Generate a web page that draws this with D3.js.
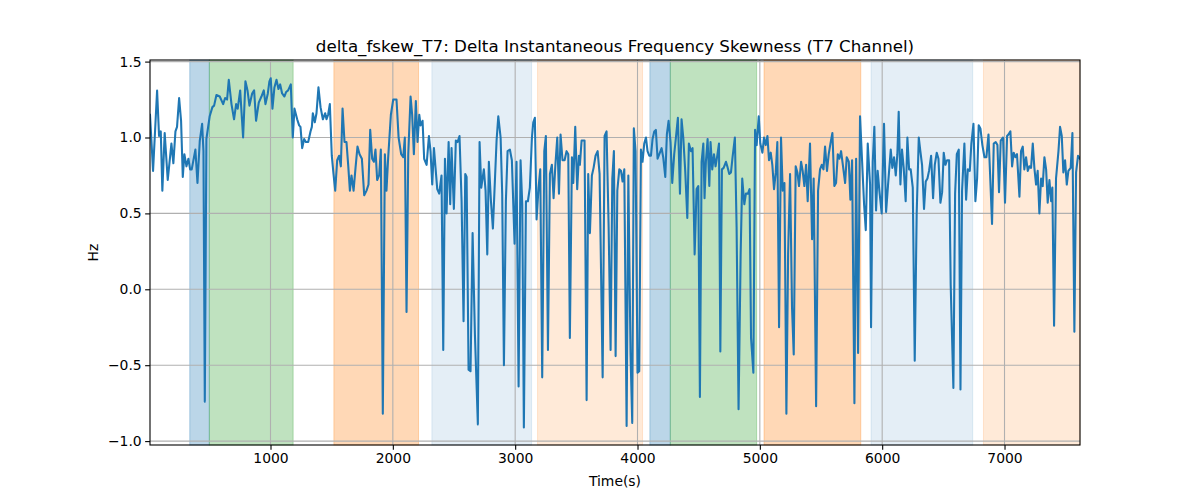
<!DOCTYPE html>
<html><head><meta charset="utf-8">
<script src="https://cdn.jsdelivr.net/npm/d3@7"></script>
<style>body{margin:0;background:#fff}svg{display:block;font-family:"DejaVu Sans",sans-serif}</style>
</head><body><div id="chart"></div>
<script>
const times = [15,40,73,89,103,116,135,160,190,206,223,236,253,269,283,296,313,329,343,356,386,403,422,441,452,463,476,503,525,539,558,585,613,629,645,659,681,702,719,732,752,776,795,812,828,850,866,882,904,926,945,959,978,991,
1002,1016,1032,1049,1065,1079,1095,1114,1128,1144,1166,1182,1196,1218,1234,1245,1259,1275,1289,1308,1327,1338,1346,1362,1376,1392,1409,1428,1447,1458,1471,1485,1501,1515,1529,1545,1561,1575,1589,1605,1621,1635,1649,1662,1679,1695,1711,1728,1747,1766,1785,1801,1815,1831,1845,1858,1872,1888,1902,1918,1935,1948,
1962,1984,2003,2030,2047,2068,2085,2098,2112,2126,2145,2158,2172,2188,2202,2216,2227,2243,2256,2276,2295,2308,2322,2336,2349,2363,2379,2398,2412,2426,2439,2456,2469,2480,2499,2515,2529,2545,2562,2578,2592,2603,2619,2635,2652,2671,2695,2709,2723,2744,2758,2772,2785,2802,2818,2834,2848,2862,2881,2894,2908,2924,2938,2957,
2973,2995,3011,3028,3044,3058,3071,3088,3104,3120,3137,3148,3161,3175,3191,3205,3221,3238,3251,3268,3284,3300,3314,3328,3344,3358,3371,3387,3404,3420,3434,3447,3464,3475,3491,3507,3521,3529,3543,3567,3584,3597,3611,3627,3641,3657,3674,3690,3715,3731,3747,3764,3780,3794,3807,3821,3835,3851,3865,3878,3892,3911,3925,
3943,3957,3970,3984,4000,4014,4028,4041,4055,4069,4082,4096,4110,4123,4137,4150,4164,4183,4197,4210,4227,4240,4254,4270,4284,4300,4314,4330,4347,4360,4374,4390,4407,4420,4437,4450,4467,4483,4497,4510,4524,4538,4548,4559,4573,4587,4597,4611,4625,4638,4652,4666,4677,4690,4704,4723,4734,4750,4764,4777,4796,4810,4826,4843,4856,4873,4886,4903,4916,
4928,4947,4961,4974,4991,5004,5021,5034,5048,5062,5075,5089,5102,5116,5130,5143,5157,5173,5187,5201,5217,5231,5247,5263,5277,5293,5307,5320,5337,5350,5364,5378,5391,5410,5427,5440,5460,5476,5492,5506,5520,5533,5549,5563,5577,5593,5609,5623,5637,5650,5664,5680,5697,5710,5727,5740,5754,5773,5787,5803,5819,5836,5852,5866,5882,5901,
5909,5923,5936,5950,5963,5977,5996,6015,6032,6048,6070,6083,6097,6111,6124,6135,6149,6162,6176,6192,6206,6220,6233,6250,6266,6282,6299,6312,6326,6342,6356,6370,6383,6400,6416,6430,6446,6460,6476,6490,6503,6517,6530,6547,6560,6582,6596,6610,6626,6640,6653,6672,6686,6700,6716,6729,6746,6762,6776,6789,6803,6819,6836,6852,6869,
6882,6898,6912,6928,6942,6955,6969,6988,7004,7021,7032,7048,7062,7075,7089,7102,7122,7135,7149,7162,7176,7190,7203,7217,7231,7244,7258,7271,7285,7299,7312,7326,7340,7353,7367,7381,7391,7405,7421,7441,7454,7468,7481,7495,7509,7522,7541,7555,7571,7585,7601,7617];

const values = [1.15,0.78,1.31,1.01,1.04,0.65,1.03,0.72,0.96,0.83,1.04,1.07,1.26,1.11,0.74,0.89,0.81,0.86,0.79,0.79,0.92,0.70,0.98,1.09,0.91,-0.74,0.99,1.14,1.20,1.21,1.28,1.27,1.22,1.26,1.25,1.38,1.22,1.12,1.22,1.19,1.31,1.00,1.37,1.31,1.21,1.29,1.31,1.11,1.23,1.27,1.31,1.22,1.29,1.37,
1.39,1.19,1.33,1.38,1.32,1.35,1.29,1.27,1.30,1.31,1.35,1.00,1.19,1.12,1.08,1.07,0.93,0.99,0.97,0.97,1.04,1.07,1.16,1.10,1.16,1.33,1.20,1.12,1.16,1.12,1.15,1.22,0.88,0.76,0.65,0.85,0.88,0.81,1.19,0.97,0.97,0.82,0.65,0.75,0.65,0.80,0.94,0.89,0.86,0.62,0.65,0.69,1.05,0.86,0.84,0.92,0.72,0.75,0.92,-0.82,0.89,0.65,
0.87,1.15,1.25,1.25,1.00,0.89,0.87,1.00,-0.15,0.89,1.27,1.15,0.89,1.24,0.97,1.15,1.08,1.11,0.86,0.82,1.01,0.91,0.69,0.93,0.80,0.66,0.63,0.75,-0.40,0.86,0.50,0.97,0.56,0.93,0.53,0.98,0.97,1.01,0.58,-0.21,0.76,0.74,-0.53,-0.54,0.37,-0.30,-0.89,0.97,0.67,0.79,0.65,0.23,0.84,0.58,0.40,0.71,0.98,1.14,1.00,0.63,-0.50,0.58,0.91,0.92,
0.85,0.30,0.84,-0.64,0.85,0.56,-0.91,0.58,0.58,0.67,1.00,1.10,1.13,0.46,0.67,0.79,-0.58,0.91,1.01,-0.40,0.76,0.82,0.60,0.81,1.00,0.63,1.02,0.85,0.85,0.91,0.89,-0.32,0.87,0.70,1.07,0.66,0.88,0.82,0.98,0.98,-0.73,0.76,0.37,0.75,0.80,0.88,0.91,0.76,-0.58,1.01,1.04,0.41,-0.40,0.73,0.91,-0.44,0.65,0.79,0.78,0.71,0.79,-0.90,0.75,
-0.43,-0.88,1.06,0.91,-0.55,-0.54,0.92,0.84,0.96,1.00,0.91,0.88,0.88,0.99,1.04,1.05,0.86,0.90,0.93,0.87,0.74,1.02,1.11,0.97,0.70,0.89,1.00,1.13,0.63,1.12,1.00,0.78,0.47,0.96,0.91,0.93,0.23,0.66,0.68,-0.71,0.84,0.96,0.60,0.84,0.99,0.68,0.97,0.79,0.89,0.81,0.88,0.96,-0.41,0.79,0.80,0.84,0.81,0.76,0.77,0.87,1.00,0.41,-0.79,0.23,0.73,0.56,0.63,0.63,0.66,
-0.32,-0.55,1.05,0.95,1.14,0.96,0.90,1.00,0.95,1.01,0.85,0.90,0.82,0.66,0.77,0.97,-0.25,1.00,0.65,0.70,-0.82,0.23,0.76,-0.12,-0.43,0.81,0.77,0.68,0.84,0.78,0.68,0.82,0.58,0.96,0.33,0.73,-0.77,0.65,0.79,0.82,0.79,0.94,0.78,0.89,0.96,1.03,0.68,0.70,0.89,0.86,0.91,0.81,0.70,0.87,0.84,0.59,0.85,-0.75,0.86,-0.42,1.14,0.84,0.56,0.39,0.96,0.69,
-0.25,0.84,1.07,0.52,0.78,0.65,0.50,1.09,0.51,0.69,0.92,0.80,0.87,0.75,0.89,1.17,0.69,0.92,0.80,0.58,1.00,0.79,0.79,0.67,-0.47,0.50,1.00,0.91,0.82,0.53,0.71,0.73,0.78,0.88,0.60,0.82,0.90,0.86,0.57,0.64,0.90,0.82,0.85,0.85,0.03,-0.65,0.63,0.89,0.92,-0.66,0.65,0.96,0.59,0.79,0.78,0.96,1.09,0.58,0.73,1.08,1.06,0.95,0.87,0.87,1.02,
0.76,0.43,0.96,0.97,0.95,0.64,0.98,1.00,0.57,1.01,1.02,1.04,0.81,0.90,0.87,0.89,0.61,0.91,0.94,0.79,0.87,0.78,0.81,0.80,0.96,0.80,0.69,0.78,0.50,0.73,0.68,0.87,0.79,0.57,0.72,0.58,0.67,-0.24,0.73,0.91,1.07,1.01,0.77,0.85,0.69,0.78,0.80,1.03,-0.28,0.77,0.88,0.86];

const spanStarts = [340, 500, 1518, 2319, 3183, 4101, 4268, 5034, 5909, 6828];
const spanEnds   = [500, 1185, 2210, 3134, 4041, 4268, 4974, 5825, 6740, 7617];
const spanKinds  = ["blue", "green", "orange", "lightblue", "lightorange", "blue", "green", "orange", "lightblue", "lightorange"];
const xTicks = [1000, 2000, 3000, 4000, 5000, 6000, 7000];
const yTicks = [-1.0, -0.5, 0.0, 0.5, 1.0, 1.5];
const titleText = "delta_fskew_T7: Delta Instantaneous Frequency Skewness (T7 Channel)";
const xLabel = "Time(s)";
const yLabel = "Hz";

const spanStyle = {
  blue: {c: "#1f77b4", a: 0.3},
  green: {c: "#2ca02c", a: 0.3},
  orange: {c: "#ff7f0e", a: 0.3},
  lightblue: {c: "#1f77b4", a: 0.12},
  lightorange: {c: "#ff7f0e", a: 0.16}
};

const W = 1200, H = 500;
const m = {l: 150, r: 1080, t: 60, b: 445};
const svg = d3.select("#chart").append("svg").attr("width", W).attr("height", H);
const x = d3.scaleLinear().domain([d3.min(times), d3.max(times)]).range([m.l, m.r]);
const y = d3.scaleLinear().domain([-1.0257, 1.5105]).range([m.b, m.t]);

// spans
svg.append("g").selectAll("rect").data(spanStarts.map((s, i) => ({s, e: spanEnds[i], k: spanKinds[i]})))
  .join("rect")
  .attr("x", d => x(d.s)).attr("width", d => x(d.e) - x(d.s))
  .attr("y", m.t).attr("height", m.b - m.t)
  .attr("fill", d => spanStyle[d.k].c).attr("fill-opacity", d => spanStyle[d.k].a)
  .attr("stroke", d => spanStyle[d.k].c).attr("stroke-opacity", d => spanStyle[d.k].a).attr("stroke-width", 1);

// grid
const grid = svg.append("g").attr("stroke", "#b0b0b0").attr("stroke-width", 1.1);
grid.selectAll(".gx").data(xTicks).join("line")
  .attr("x1", d => x(d)).attr("x2", d => x(d))
  .attr("y1", m.t).attr("y2", m.b);
grid.selectAll(".gy").data(yTicks).join("line")
  .attr("y1", d => y(d)).attr("y2", d => y(d))
  .attr("x1", m.l).attr("x2", m.r);

// line
const clip = svg.append("clipPath").attr("id", "clip").append("rect")
  .attr("x", m.l).attr("y", m.t).attr("width", m.r - m.l).attr("height", m.b - m.t);
svg.append("path").datum(times.map((t, i) => [t, values[i]]))
  .attr("clip-path", "url(#clip)")
  .attr("fill", "none").attr("stroke", "#1f77b4").attr("stroke-width", 2.08)
  .attr("stroke-linejoin", "round").attr("stroke-linecap", "square")
  .attr("d", d3.line().x(d => x(d[0])).y(d => y(d[1])));

// axes
const fmtY = d => d3.format(".1f")(d).replace("-", "\u2212");
const xAxis = svg.append("g").attr("transform", `translate(0,${m.b})`)
  .call(d3.axisBottom(x).tickValues(xTicks).tickFormat(d3.format("d")).tickSizeOuter(0).tickSize(4.86).tickPadding(3.5));
const yAxis = svg.append("g").attr("transform", `translate(${m.l},0)`)
  .call(d3.axisLeft(y).tickValues(yTicks).tickFormat(fmtY).tickSizeOuter(0).tickSize(4.86).tickPadding(3.5));
[xAxis, yAxis].forEach(a => {
  a.select(".domain").remove();
  a.selectAll("line").attr("stroke", "#000").attr("stroke-width", 1.1);
  a.selectAll("text").attr("fill", "#000").attr("font-size", "13.9px").attr("font-family", "DejaVu Sans");
});

// frame
svg.append("rect").attr("x", m.l).attr("y", m.t).attr("width", m.r - m.l).attr("height", m.b - m.t)
  .attr("fill", "none").attr("stroke", "#000").attr("stroke-width", 1.1);

svg.append("text").attr("x", (m.l + m.r) / 2).attr("y", 52).attr("text-anchor", "middle")
  .attr("font-size", "16.7px").text(titleText);
svg.append("text").attr("x", (m.l + m.r) / 2).attr("y", 486).attr("text-anchor", "middle")
  .attr("font-size", "13.9px").text(xLabel);
svg.append("text").attr("transform", `translate(98,${(m.t + m.b) / 2}) rotate(-90)`).attr("text-anchor", "middle")
  .attr("font-size", "13.9px").text(yLabel);
</script></body></html>
